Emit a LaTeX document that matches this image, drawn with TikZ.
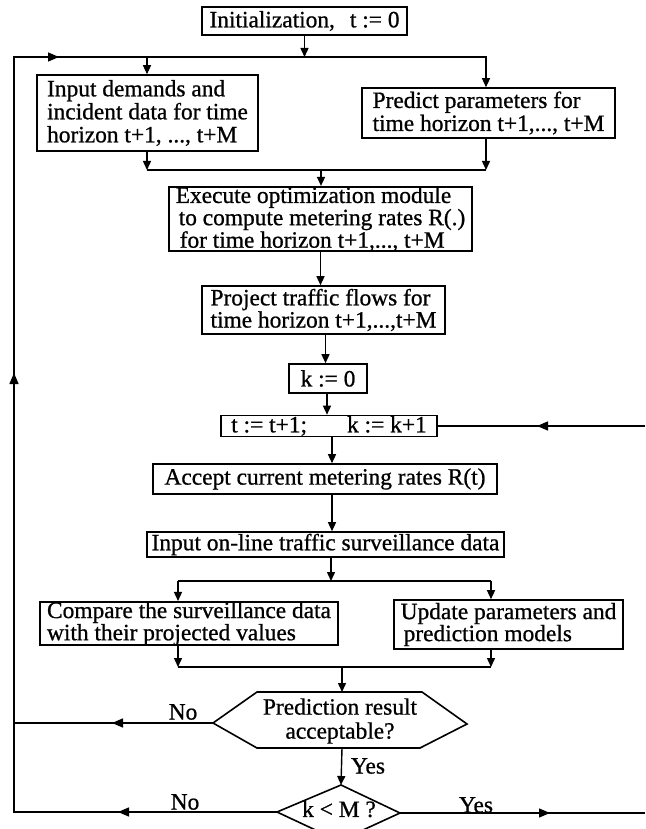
\documentclass[tikz,border=0pt]{standalone}
\usepackage{fontspec}
\setmainfont{Liberation Serif}[FakeBold=0.8]
\usetikzlibrary{arrows.meta,decorations.markings,calc}
\tikzset{
  box/.style={draw,line width=1.6pt,inner sep=0pt,align=left,font=\fontsize{23.4}{23}\selectfont},
  lbl/.style={inner sep=0pt,font=\fontsize{23.4}{23}\selectfont},
  conn/.style={line width=1.4pt},
  arr/.style={conn,-{Triangle[length=9pt,width=8pt]}},
  mk/.style={postaction={decorate,decoration={markings,mark=at position #1 with {\arrow{Triangle[length=11pt,width=9pt]}}}}},
  shapeline/.style={line width=1.6pt},
}
\begin{document}
\begin{tikzpicture}[x=1pt,y=-1pt]
\useasboundingbox (0,0) rectangle (645,829);
\fill[white] (0,0) rectangle (645,829);
\clip (0,0) rectangle (645,829);

% boxes
\node[box,minimum width=205pt,minimum height=28pt] (init) at (304.5,21) {Initialization,\hspace{15pt}t := 0};
\node[box,minimum width=221pt,minimum height=76pt] (in1) at (147.5,113) {Input demands and\\incident data for time\\horizon t+1, ..., t+M};
\node[box,minimum width=253pt,minimum height=50pt] (pred) at (488.5,113) {Predict parameters for\\time horizon t+1,..., t+M};
\node[box,minimum width=303pt,minimum height=62pt,font=\fontsize{23.4}{18.5}\selectfont] (exec) at (320.5,219) {Execute optimization module\\\hspace*{3pt}to compute metering rates R(.)\\\hspace*{4pt}for time horizon t+1,..., t+M};
\node[box,minimum width=243pt,minimum height=48pt,font=\fontsize{23.4}{21}\selectfont] (proj) at (323.5,310) {Project traffic flows for\\time horizon t+1,...,t+M};
\node[box,minimum width=78pt,minimum height=29pt] (k0) at (328,378.5) {k := 0};
\node[box,minimum width=216pt,minimum height=21pt] (tk) at (329,426) {t := t+1;\hspace{40pt}k := k+1};
\node[box,minimum width=344pt,minimum height=30pt] (accept) at (325,479) {Accept current metering rates R(t)};
\node[box,minimum width=357pt,minimum height=25pt] (online) at (325.5,544.5) {Input on-line traffic surveillance data};
\node[box,minimum width=298pt,minimum height=43pt,font=\fontsize{23.4}{20}\selectfont] (compare) at (189,623.5) {Compare the surveillance data\\with their projected values};
\node[box,minimum width=229pt,minimum height=49pt,font=\fontsize{23.4}{22}\selectfont] (update) at (508.5,624.5) {Update parameters and\\\hspace*{3pt}prediction models};

% hexagon decision
\coordinate (hexW) at (213,723);
\coordinate (hexN) at (342,692);
\coordinate (hexE) at (467,724);
\coordinate (hexS) at (342,748);
\draw[shapeline] (hexW) -- (257,692) -- (422,692) -- (hexE) -- (420,748) -- (257,748) -- cycle;
\node[lbl,align=center,font=\fontsize{23.4}{24}\selectfont] (hex) at (340,721) {Prediction result\\acceptable?};

% diamond decision
\coordinate (dmW) at (277,812);
\coordinate (dmN) at (341,785);
\coordinate (dmE) at (400,813);
\coordinate (dmS) at (339,841);
\draw[shapeline] (dmW) -- (dmN) -- (dmE) -- (dmS) -- cycle;
\node[lbl] (kM) at (339,809) {k < M ?};

% junction coordinates
\coordinate (TI) at (304.5,57);
\coordinate (L1) at (14,57);
\coordinate (T2) at (486,57);
\coordinate (TA) at (147,57);
\coordinate (L2) at (14,723);
\coordinate (L3) at (14,812);
\coordinate (M1a) at (147,170);
\coordinate (M1b) at (486,170);
\coordinate (M1c) at (321,170);
\coordinate (B1) at (331,581);
\coordinate (B1a) at (178,581);
\coordinate (B1b) at (491,581);
\coordinate (B2a) at (178,667);
\coordinate (B2b) at (491,667);
\coordinate (B2c) at (342,667);
\coordinate (R1) at (645,426);
\coordinate (R2) at (645,813);

% connectors
\draw[arr] (init.south) -- (TI);
\draw[conn,mk=159pt,mk=702pt,mk=1063pt,-{Triangle[length=9pt,width=8pt]}] (dmW) -- (L3) -- (L1) -- (T2) -- (T2 |- pred.north);
\draw[arr] (TA) -- (TA |- in1.north);
\draw[arr] (M1a |- in1.south) -- (M1a);
\draw[arr] (M1b |- pred.south) -- (M1b);
\draw[conn] (M1a) -- (M1b);
\draw[arr] (M1c) -- (M1c |- exec.north);
\draw[arr] (exec.south) -- (exec.south |- proj.north);
\draw[arr] ([xshift=2pt]proj.south) -- ([xshift=2pt]proj.south |- k0.north);
\draw[arr] ([xshift=-1pt]k0.south) -- ([xshift=-1pt]k0.south |- tk.north);
\draw[arr] ([xshift=3pt]tk.south) -- ([xshift=3pt]tk.south |- accept.north);
\draw[arr] ([xshift=7pt]accept.south) -- ([xshift=7pt]accept.south |- online.north);
\draw[arr] (B1 |- online.south) -- (B1);
\draw[conn] (B1a) -- (B1b);
\draw[arr] (B1a) -- (B1a |- compare.north);
\draw[arr] (B1b) -- (B1b |- update.north);
\draw[arr] (B2a |- compare.south) -- (B2a);
\draw[arr] (B2b |- update.south) -- (B2b);
\draw[conn] (B2a) -- (B2b);
\draw[arr] (B2c) -- (hexN);
\draw[conn,mk=101pt] (hexW) -- (L2);
\draw[arr] (hexS) -- (dmN);
\draw[conn,mk=150pt] (dmE) -- (R2);
\draw[conn,mk=108pt] (R1) -- (tk);

% labels
\node[lbl] (no1) at (183,712) {No};
\node[lbl] (no2) at (185,802) {No};
\node[lbl] (yes1) at (368,766) {Yes};
\node[lbl] (yes2) at (476,805) {Yes};
\end{tikzpicture}
\end{document}
